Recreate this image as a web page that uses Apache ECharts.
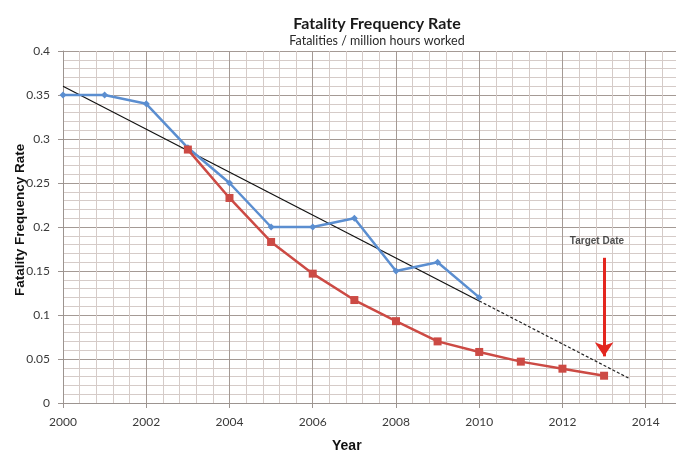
<!DOCTYPE html>
<html>
<head>
<meta charset="utf-8">
<script src="https://cdn.jsdelivr.net/npm/echarts@6/dist/echarts.min.js"></script>
<style>
html,body{margin:0;padding:0;background:#fff;}
#chart{width:676px;height:455px;}
</style>
</head>
<body>
<div id="chart"></div>
<script>
// Data
var blueYears = [2000, 2001, 2002, 2003, 2004, 2005, 2006, 2007, 2008, 2009, 2010];
var blueValues = [0.35, 0.35, 0.34, 0.29, 0.25, 0.20, 0.20, 0.21, 0.15, 0.16, 0.12];
var redYears = [2003, 2004, 2005, 2006, 2007, 2008, 2009, 2010, 2011, 2012, 2013];
var redValues = [0.288, 0.233, 0.183, 0.147, 0.117, 0.093, 0.070, 0.058, 0.047, 0.039, 0.031];
var trendYears = [2000, 2010];
var trendValues = [0.36, 0.116];
var trendDashYears = [2010, 2013.6];
var trendDashValues = [0.116, 0.028];
var arrowYear = 2013;
var arrowFrom = 0.165;
var arrowTo = 0.053;
var targetLabelPos = [2012.83, 0.184];
var xTicks = [2000, 2002, 2004, 2006, 2008, 2010, 2012, 2014];

function pairs(xs, ys) { return xs.map(function (x, i) { return [x, ys[i]]; }); }

var chart = echarts.init(document.getElementById('chart'), null, {renderer: 'canvas'});
var labelFont = 'Lato, "Open Sans", sans-serif';
chart.setOption({
  animation: false,
  backgroundColor: '#ffffff',
  title: {
    text: 'Fatality Frequency Rate',
    subtext: 'Fatalities / million hours worked',
    left: 372,
    top: 11,
    textAlign: 'center',
    itemGap: 2,
    textStyle: {fontFamily: labelFont, fontWeight: 'bold', fontSize: 16, color: '#1a1a1a'},
    subtextStyle: {fontFamily: labelFont, fontSize: 12.5, color: '#2a2a2a'}
  },
  grid: {left: 63, top: 51, height: 352, width: 616, containLabel: false, outerBoundsMode: 'none'},
  xAxis: [
    {
      type: 'value', position: 'top', min: 2000, max: 2014.8, interval: 0.4,
      axisLine: {show: false}, axisTick: {show: false}, axisLabel: {show: false},
      splitLine: {show: true, lineStyle: {color: '#d5cbc8', width: 1}}
    },
    {
      type: 'value', position: 'bottom', min: 2000, max: 2014.8, interval: 2,
      axisLine: {show: true, lineStyle: {color: '#9c9490', width: 1}},
      axisTick: {show: true, length: 5, lineStyle: {color: '#9c9490'}},
      axisLabel: {
        margin: 13, fontFamily: labelFont, fontSize: 12, color: '#3a3a3a',
        formatter: function (v) { return xTicks.indexOf(Math.round(v * 10) / 10) >= 0 ? String(Math.round(v)) : ''; }
      },
      splitLine: {show: true, lineStyle: {color: '#a49a95', width: 1}}
    }
  ],
  yAxis: [
    {
      type: 'value', position: 'right', min: 0, max: 0.4, interval: 0.01,
      axisLine: {show: false}, axisTick: {show: false}, axisLabel: {show: false},
      splitLine: {show: true, lineStyle: {color: '#d5cbc8', width: 1}}
    },
    {
      type: 'value', position: 'left', min: 0, max: 0.4, interval: 0.05,
      axisLine: {show: true, lineStyle: {color: '#9c9490', width: 1}},
      axisTick: {show: true, length: 5, lineStyle: {color: '#9c9490'}},
      axisLabel: {margin: 13, fontFamily: labelFont, fontSize: 12, color: '#3a3a3a'},
      splitLine: {show: true, lineStyle: {color: '#a49a95', width: 1}}
    }
  ],
  graphic: [
    {
      type: 'text', left: 332, top: 439,
      style: {text: 'Year', font: 'bold 14px "Liberation Sans", Arial, sans-serif', fill: '#111'}
    },
    {
      type: 'text', x: 13, y: 296, rotation: Math.PI / 2,
      style: {text: 'Fatality Frequency Rate', font: 'bold 13.5px "Liberation Sans", Arial, sans-serif', fill: '#111'}
    }
  ],
  series: [
    {
      type: 'line', xAxisIndex: 1, yAxisIndex: 1,
      data: pairs(trendYears, trendValues),
      symbol: 'none', lineStyle: {color: '#111', width: 1.2}, z: 3
    },
    {
      type: 'line', xAxisIndex: 1, yAxisIndex: 1,
      data: pairs(trendDashYears, trendDashValues),
      symbol: 'none', lineStyle: {color: '#222', width: 1.2, type: [3, 2]}, z: 3
    },
    {
      type: 'line', xAxisIndex: 1, yAxisIndex: 1,
      data: pairs(blueYears, blueValues),
      symbol: 'diamond', symbolSize: 7,
      itemStyle: {color: '#5b8ed0'},
      lineStyle: {color: '#5b8ed0', width: 2.5}, z: 4
    },
    {
      type: 'line', xAxisIndex: 1, yAxisIndex: 1,
      data: pairs(redYears, redValues),
      symbol: 'rect', symbolSize: 8,
      itemStyle: {color: '#cc4a44'},
      lineStyle: {color: '#cc4a44', width: 2.5}, z: 5,
      markLine: {
        silent: true, animation: false,
        symbol: ['none', 'arrow'], symbolSize: [14, 14],
        lineStyle: {color: '#e3261f', width: 3, type: 'solid'},
        label: {show: false},
        data: [[{coord: [arrowYear, arrowFrom]}, {coord: [arrowYear, arrowTo]}]]
      }
    },
    {
      type: 'scatter', xAxisIndex: 1, yAxisIndex: 1,
      data: [targetLabelPos], symbolSize: 0,
      label: {
        show: true, position: 'inside', formatter: 'Target Date',
        fontFamily: '"Liberation Sans", Arial, sans-serif', fontWeight: 'bold', fontSize: 10, color: '#222'
      }
    }
  ]
});
</script>
</body>
</html>
